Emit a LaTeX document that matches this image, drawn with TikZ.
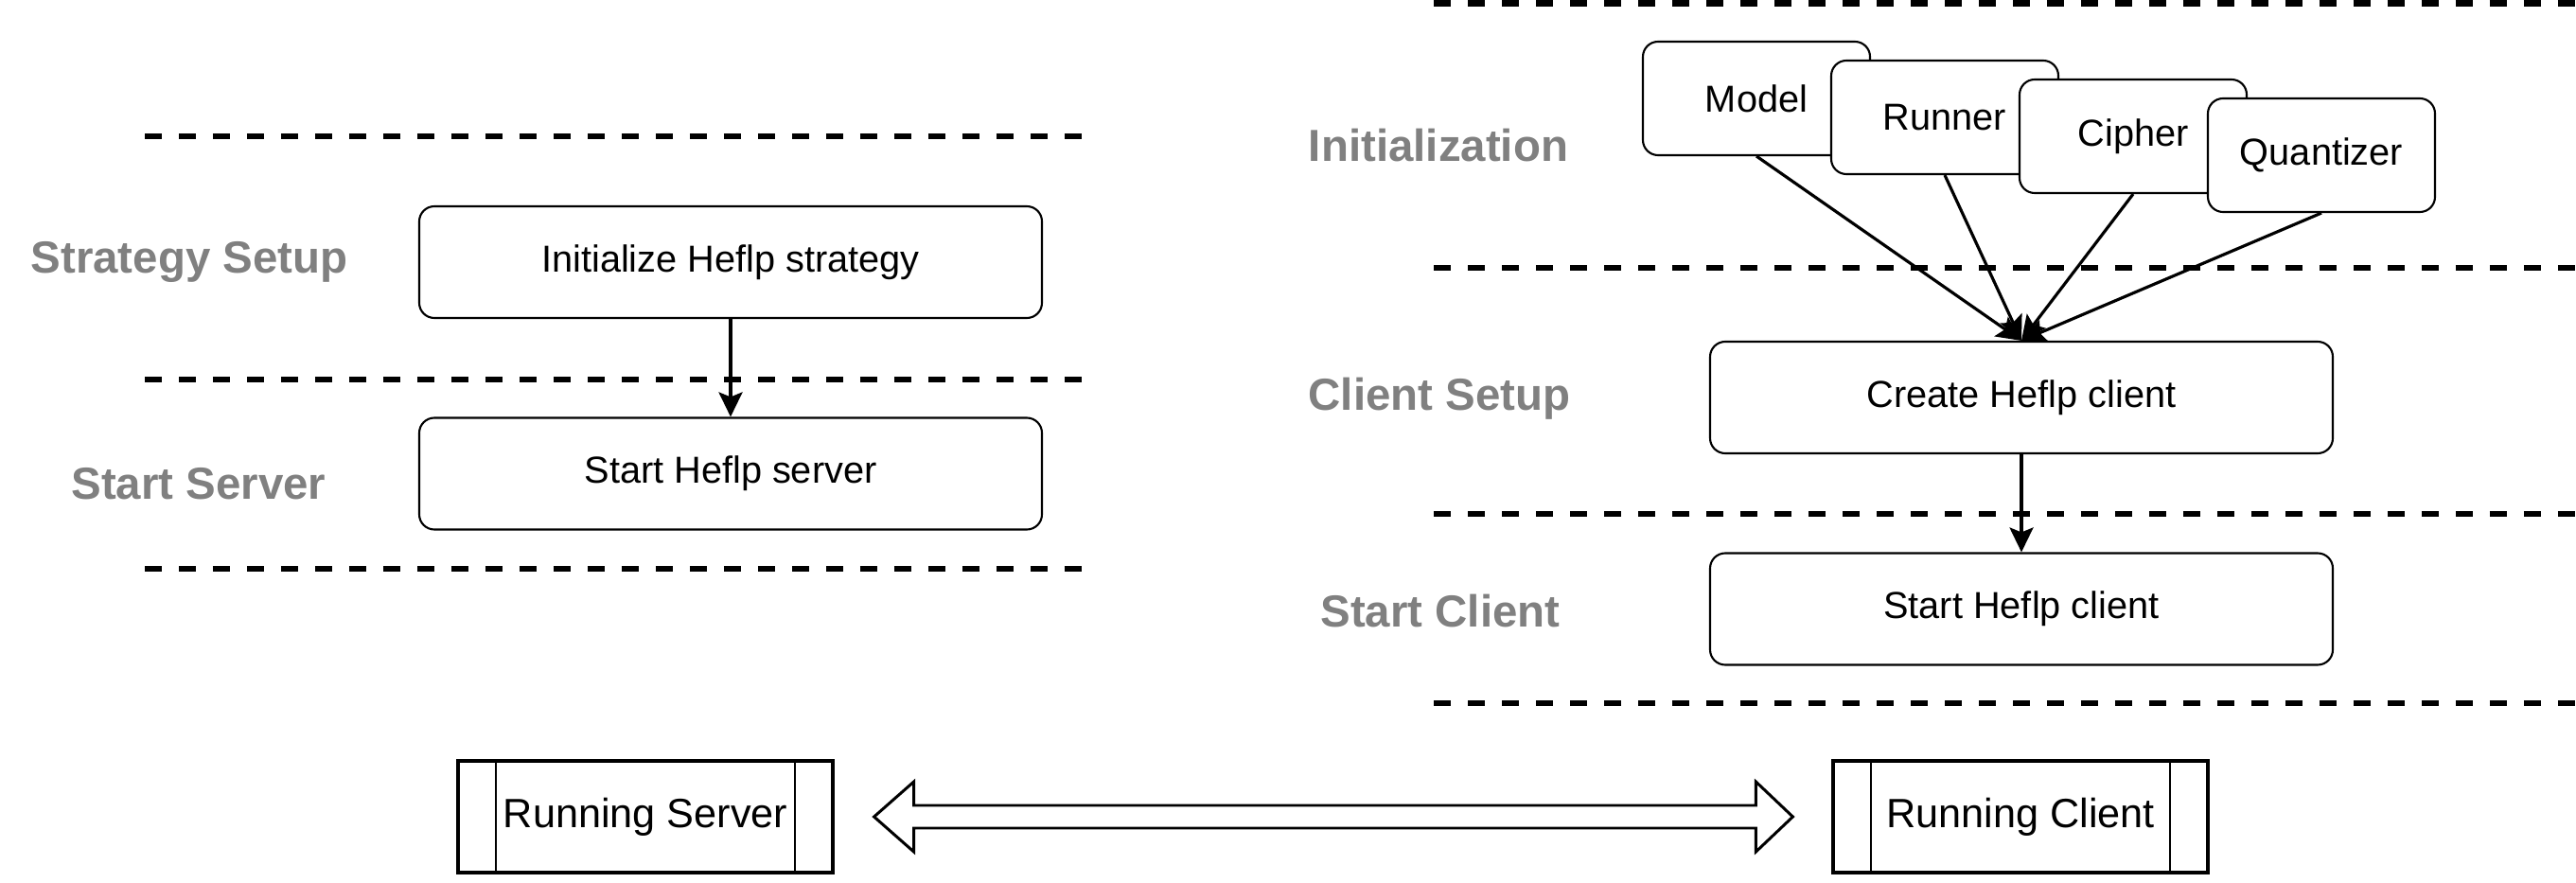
\documentclass[tikz,border=0pt]{standalone}
\usepackage{fontspec}
\setmainfont{Liberation Sans}
\usetikzlibrary{positioning, arrows.meta, calc}
\definecolor{phasegray}{RGB}{128,128,128}
\tikzstyle{stepbox} = [rectangle, rounded corners=0.16cm, minimum width=6.58cm, minimum height=1.18cm, text centered, draw=black, line width=0.6pt, fill=white, font=\fontsize{11.3}{13}\selectfont]
\tikzstyle{part} = [stepbox, minimum width=2.4cm, minimum height=1.2cm]
\tikzstyle{runbox} = [rectangle, minimum width=3.96cm, minimum height=1.18cm, text centered, draw=black, line width=0.9pt, fill=white, font=\fontsize{12.3}{14}\selectfont,
    path picture={\draw[line width=0.6pt] ([xshift=0.4cm]path picture bounding box.north west) -- ([xshift=0.4cm]path picture bounding box.south west)
        ([xshift=-0.4cm]path picture bounding box.north east) -- ([xshift=-0.4cm]path picture bounding box.south east);}]
\tikzstyle{phase} = [anchor=base, inner sep=0pt, text=phasegray, font=\fontsize{13.5}{16}\selectfont\bfseries]
\tikzstyle{sep} = [line width=1.85pt, dash pattern=on 0.18cm off 0.18cm]
\tikzstyle{arrow} = [line width=0.9pt, -{Stealth[length=0.26cm, width=0.25cm, inset=0.05cm]}]
\tikzstyle{wide} = [line width=0.85pt, fill=white, line join=miter]

\begin{document}
\begin{tikzpicture}[node distance=2.235cm]
            \useasboundingbox (0,0) rectangle (27.22,-9.33);

            \draw [sep] (1.53,-1.44) -- (11.43,-1.44);
            \draw [sep] (1.53,-4.01) -- (11.43,-4.01);
            \draw [sep] (1.53,-6.01) -- (11.43,-6.01);
            \draw [sep] (15.15,-0.035) -- (27.22,-0.035);
            \draw [sep] (15.15,-2.83) -- (27.22,-2.83);
            \draw [sep] (15.15,-5.43) -- (27.22,-5.43);
            \draw [sep] (15.15,-7.43) -- (27.22,-7.43);

            \node (lblstrategy) [phase] at (2.00,-2.89) {Strategy Setup};
            \node (lblserver) [phase] at (2.10,-5.27) {Start Server};
            \node (lblinit) [phase] at (15.20,-1.71) {Initialization};
            \node (lblsetup) [phase] at (15.21,-4.34) {Client Setup};
            \node (lblclient) [phase] at (15.22,-6.62) {Start Client};

            \node (strategy) [stepbox] at (7.72,-2.77) {Initialize Heflp strategy};
            \node (server) [stepbox, below of=strategy] {Start Heflp server};

            \node (model) [part] at (18.56,-1.04) {Model};
            \node (runner) [part, right of=model, node distance=1.99cm, yshift=-0.2cm] {Runner};
            \node (cipher) [part, right of=runner, node distance=1.99cm, yshift=-0.2cm] {Cipher};
            \node (quantizer) [part, right of=cipher, node distance=1.99cm, yshift=-0.2cm] {Quantizer};

            \node (create) [stepbox] at (21.36,-4.20) {Create Heflp client};
            \node (client) [stepbox, below of=create] {Start Heflp client};

            \node (runserver) [runbox] at (6.82,-8.63) {Running Server};
            \node (runclient) [runbox] at (21.35,-8.63) {Running Client};

            \draw [arrow] (strategy) -- (server);
            \draw [arrow] (model.south) -- (create.north);
            \draw [arrow] (runner.south) -- (create.north);
            \draw [arrow] (cipher.south) -- (create.north);
            \draw [arrow] (quantizer.south) -- (create.north);
            \draw [arrow] (create) -- (client);

            \coordinate (la) at ([xshift=0.42cm]runserver.east);
            \coordinate (ra) at ([xshift=-0.41cm]runclient.west);
            \draw [wide] (la) -- ++(0.42,0.37) -- ++(0,-0.25) -- ($(ra)+(-0.39,0.12)$) -- ++(0,0.25) -- (ra)
                -- ++(-0.39,-0.37) -- ++(0,0.25) -- ($(la)+(0.42,-0.12)$) -- ++(0,-0.25) -- cycle;

\end{tikzpicture}
\end{document}
